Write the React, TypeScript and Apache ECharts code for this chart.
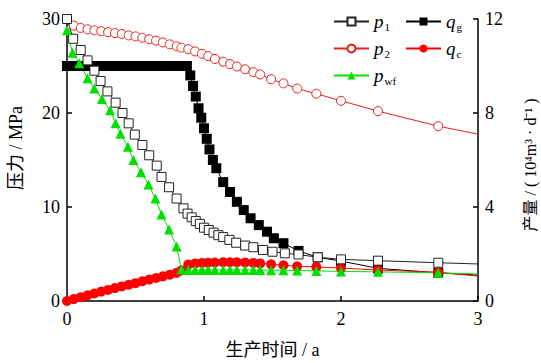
import React, { useEffect, useRef } from 'react';
import * as echarts from 'echarts';

// ---------- data ----------
const xTicks = [0, 1, 2, 3];
const pressureTicks = [0, 10, 20, 30];
const rateTicks = [0, 4, 8, 12];

const timeP1 = [0, 0.045, 0.1, 0.15, 0.2, 0.245, 0.295, 0.355, 0.405, 0.45, 0.495, 0.55, 0.6, 0.655, 0.69, 0.745, 0.8, 0.85, 0.88, 0.91, 0.94, 0.97, 1.0, 1.035, 1.07, 1.105, 1.14, 1.185, 1.235, 1.3, 1.36, 1.43, 1.5, 1.59, 1.69, 1.83, 2.0, 2.27, 2.71, 3.0];
const p1 = [30, 27.9, 26.7, 25.6, 24.5, 23.4, 22.3, 21.1, 20.0, 18.9, 17.7, 16.6, 15.5, 14.4, 13.2, 12.1, 10.9, 9.86, 9.3, 8.9, 8.5, 8.2, 7.8, 7.55, 7.27, 7.0, 6.8, 6.5, 6.2, 5.9, 5.72, 5.43, 5.24, 5.07, 4.95, 4.65, 4.43, 4.29, 4.07, 3.94];

const timeP2 = [0, 0.05, 0.1, 0.15, 0.2, 0.25, 0.3, 0.35, 0.4, 0.45, 0.5, 0.55, 0.6, 0.65, 0.7, 0.75, 0.8, 0.835, 0.885, 0.935, 0.985, 1.03, 1.08, 1.14, 1.19, 1.24, 1.3, 1.36, 1.41, 1.49, 1.58, 1.68, 1.82, 2.0, 2.27, 2.71, 3.0];
const p2 = [30, 29.3, 29.05, 28.9, 28.8, 28.7, 28.6, 28.5, 28.4, 28.25, 28.15, 28.0, 27.85, 27.7, 27.5, 27.3, 27.1, 26.95, 26.8, 26.55, 26.3, 26.05, 25.75, 25.45, 25.2, 24.95, 24.65, 24.35, 24.1, 23.6, 23.15, 22.6, 22.05, 21.3, 20.2, 18.6, 17.75];

const timePwf = [0, 0.04, 0.09, 0.15, 0.2, 0.255, 0.315, 0.355, 0.39, 0.445, 0.485, 0.54, 0.595, 0.645, 0.69, 0.745, 0.8, 0.835, 0.885, 0.935, 0.985, 1.03, 1.08, 1.14, 1.19, 1.24, 1.3, 1.36, 1.41, 1.49, 1.58, 1.68, 1.82, 2.0, 2.27, 2.71, 3.0];
const pwf = [28.8, 26.4, 25.3, 23.7, 22.6, 21.5, 20.3, 18.9, 17.8, 16.4, 15.0, 13.7, 12.4, 10.9, 9.2, 7.6, 5.8, 3.35, 3.3, 3.3, 3.3, 3.3, 3.3, 3.3, 3.3, 3.3, 3.3, 3.3, 3.3, 3.28, 3.26, 3.24, 3.2, 3.15, 3.1, 3.0, 2.88];

const timeQg = [0, 0.05, 0.1, 0.15, 0.2, 0.25, 0.3, 0.35, 0.4, 0.45, 0.5, 0.55, 0.6, 0.65, 0.7, 0.75, 0.8, 0.85, 0.875, 0.9, 0.92, 0.94, 0.96, 0.98, 1.0, 1.02, 1.04, 1.065, 1.09, 1.14, 1.19, 1.24, 1.29, 1.34, 1.4, 1.46, 1.51, 1.58, 1.69, 1.83, 2.0, 2.27, 2.71, 3.0];
const qg = [10, 10, 10, 10, 10, 10, 10, 10, 10, 10, 10, 10, 10, 10, 10, 10, 10, 10, 10, 9.6, 9.15, 8.7, 8.2, 7.8, 7.35, 6.9, 6.45, 6.0, 5.65, 5.06, 4.64, 4.22, 3.87, 3.52, 3.23, 2.95, 2.67, 2.46, 2.13, 1.86, 1.7, 1.39, 1.2, 1.1];

const timeQc = [0, 0.05, 0.1, 0.15, 0.2, 0.25, 0.3, 0.35, 0.4, 0.45, 0.5, 0.55, 0.6, 0.65, 0.7, 0.75, 0.8, 0.835, 0.885, 0.935, 0.985, 1.03, 1.08, 1.14, 1.19, 1.24, 1.3, 1.36, 1.41, 1.49, 1.58, 1.68, 1.82, 2.0, 2.27, 2.71, 3.0];
const qc = [0, 0.08, 0.16, 0.24, 0.32, 0.4, 0.47, 0.55, 0.62, 0.69, 0.76, 0.84, 0.91, 0.98, 1.05, 1.12, 1.2, 1.3, 1.55, 1.6, 1.62, 1.63, 1.64, 1.65, 1.65, 1.65, 1.64, 1.62, 1.6, 1.56, 1.52, 1.48, 1.45, 1.4, 1.32, 1.22, 1.06];

const seriesNames = ['p1', 'p2', 'pwf', 'qg', 'qc'];
const legendLabels: Record<string, [string, string]> = {
  p1: ['p', '1'],
  p2: ['p', '2'],
  pwf: ['p', 'wf'],
  qg: ['q', 'g'],
  qc: ['q', 'c'],
};

// ---------- helpers ----------
const FONT = "Liberation Serif, Times New Roman, Noto Sans CJK SC, serif";
const AXIS_COLOR = '#000';

function toData(ts: number[], vs: number[]) {
  const end = xTicks[xTicks.length - 1];
  return ts.map((t, i) => (t >= end ? { value: [t, vs[i]], symbol: 'none' } : [t, vs[i]]));
}

const axisCommon = {
  axisLine: { show: true, lineStyle: { color: AXIS_COLOR, width: 1.5 } },
  axisTick: { show: true, inside: true, length: 5, lineStyle: { color: AXIS_COLOR, width: 1.5 } },
  axisLabel: { color: '#000', fontSize: 18, fontFamily: FONT, margin: 7 },
  splitLine: { show: false },
};

const legendRich = {
  i: { fontFamily: FONT, fontStyle: 'italic', fontSize: 19, color: '#000' },
  s: { fontFamily: FONT, fontSize: 11, color: '#000', padding: [10, 0, 0, 1] },
};

const legendFormatter = (name: string) => {
  const [a, b] = legendLabels[name];
  return `{i|${a}}{s|${b}}`;
};

export default function App() {
  const ref = useRef<HTMLDivElement>(null);
  useEffect(() => {
    const chart = echarts.init(ref.current!, null, { renderer: 'svg' });
    const option: any = {
      animation: false,
      backgroundColor: '#fff',
      grid: { left: 67, right: 63, top: 19, bottom: 62, outerBoundsMode: 'none' },
      legend: [
        {
          data: [seriesNames[0], seriesNames[1], seriesNames[2]],
          orient: 'vertical',
          left: 328,
          top: 7,
          itemWidth: 35,
          itemHeight: 10,
          itemGap: 7,
          formatter: legendFormatter,
          textStyle: { rich: legendRich },
        },
        {
          data: [seriesNames[3], seriesNames[4]],
          orient: 'vertical',
          left: 400,
          top: 7,
          itemWidth: 35,
          itemHeight: 10,
          itemGap: 7,
          formatter: legendFormatter,
          textStyle: { rich: legendRich },
        },
      ],
      xAxis: {
        type: 'value',
        min: xTicks[0],
        max: xTicks[xTicks.length - 1],
        interval: xTicks[1] - xTicks[0],
        ...axisCommon,
        axisLabel: { ...axisCommon.axisLabel, margin: 9 },
        name: '生产时间 / a',
        nameLocation: 'middle',
        nameGap: 40,
        nameTextStyle: { fontSize: 18, color: '#000', fontFamily: FONT },
      },
      yAxis: [
        {
          type: 'value',
          position: 'left',
          min: pressureTicks[0],
          max: pressureTicks[pressureTicks.length - 1],
          interval: pressureTicks[1] - pressureTicks[0],
          ...axisCommon,
          name: '压力 / MPa',
          nameLocation: 'middle',
          nameGap: 42,
          nameTextStyle: { fontSize: 18, color: '#000', fontFamily: FONT, padding: [0, 0, 0, 24] },
        },
        {
          type: 'value',
          position: 'right',
          min: rateTicks[0],
          max: rateTicks[rateTicks.length - 1],
          interval: rateTicks[1] - rateTicks[0],
          ...axisCommon,
          name: '产量 / ( 10⁴m³ · d⁻¹ )',
          nameLocation: 'middle',
          nameGap: 44,
          nameTextStyle: { fontSize: 16, color: '#000', fontFamily: FONT, padding: [0, 10, 0, 0] },
        },
      ],
      series: [
        {
          name: 'qg',
          type: 'line',
          yAxisIndex: 1,
          symbol: 'rect',
          symbolSize: 10,
          itemStyle: { color: '#000' },
          lineStyle: { color: '#000', width: 1 },
          data: toData(timeQg, qg),
        },
        {
          name: 'qc',
          type: 'line',
          yAxisIndex: 1,
          symbol: 'circle',
          symbolSize: 10,
          itemStyle: { color: '#ff0000' },
          lineStyle: { color: '#ff0000', width: 1 },
          data: toData(timeQc, qc),
        },
        {
          name: 'p2',
          type: 'line',
          yAxisIndex: 0,
          symbol: 'circle',
          symbolSize: 9,
          itemStyle: { color: '#fff', borderColor: '#e3201b', borderWidth: 1 },
          lineStyle: { color: '#e3201b', width: 1 },
          data: toData(timeP2, p2),
        },
        {
          name: 'p1',
          type: 'line',
          yAxisIndex: 0,
          symbol: 'rect',
          symbolSize: 9,
          itemStyle: { color: '#fff', borderColor: '#222', borderWidth: 1 },
          lineStyle: { color: '#222', width: 1 },
          data: toData(timeP1, p1),
        },
        {
          name: 'pwf',
          type: 'line',
          yAxisIndex: 0,
          symbol: 'triangle',
          symbolSize: 10,
          itemStyle: { color: '#00e000' },
          lineStyle: { color: '#00e000', width: 1 },
          data: toData(timePwf, pwf),
        },
      ],
    };
    chart.setOption(option);
    return () => chart.dispose();
  }, []);
  return (
    <div
      ref={ref}
      style={{ position: 'fixed', left: 0, top: 0, width: 541, height: 363, background: '#fff' }}
    />
  );
}
